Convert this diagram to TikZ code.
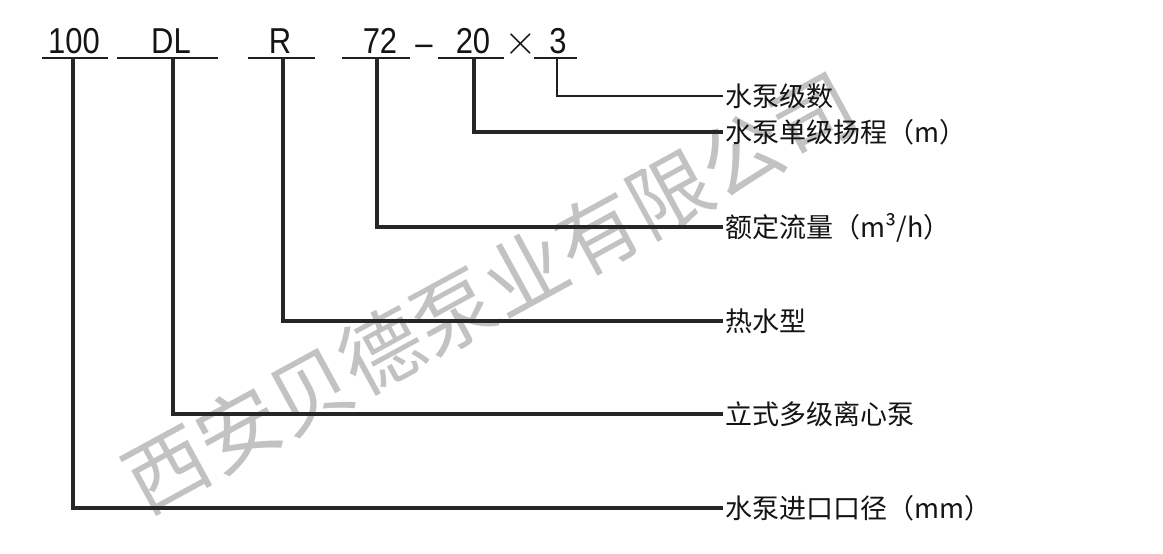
\RequirePackage{fix-cm}
\documentclass[tikz,border=0pt]{standalone}
\usepackage{fontspec}
\setmainfont{Liberation Sans}
\newfontfamily\narrowfont[FakeStretch=0.86]{Liberation Sans}
\newfontfamily\cjk{Noto Sans CJK SC}
\begin{document}
\begin{tikzpicture}[x=1pt,y=-1pt,line join=miter,
  lbl/.style={anchor=west, inner xsep=2.5pt, inner ysep=0pt,
    font=\cjk\fontsize{27}{27}\selectfont, text height=23.76pt, text depth=3.24pt, text=black!92},
  codetxt/.style={anchor=base, inner sep=0pt, font=\narrowfont\fontsize{36}{36}\selectfont, text=black!92},
  uline/.style={line width=2pt, draw=black!88},
  lead/.style={line width=3.2pt, draw=black!85},
  thinlead/.style={line width=2.2pt, draw=black!88},
  wmark/.style={inner sep=0pt, text=black!24, font=\cjk\fontsize{82}{82}\selectfont}]
\useasboundingbox (0,0) rectangle (1163,554);
\fill[white] (0,0) rectangle (1163,554);

% watermark
\node[wmark, rotate=28.6] (wm) at (490,292) {西安贝德泵业有限公司};

% code parts
\node[codetxt] (t100) at (74,53) {100};
\node[codetxt] (tDL) at (171,53) {DL};
\node[codetxt] (tR) at (280,53) {R};
\node[codetxt] (t72) at (380,53) {72};
\node[codetxt] (tdash) at (424,55) {–};
\node[codetxt] (t20) at (473,53) {20};
\node[codetxt, font=\fontsize{42}{42}\selectfont] (ttimes) at (521,54) {$\times$};
\node[codetxt] (t3) at (558,53) {3};

% underlines
\coordinate (a100) at (42,58);  \coordinate (b100) at (108,58);
\coordinate (aDL) at (117,58);  \coordinate (bDL) at (218,58);
\coordinate (aR) at (248,58);   \coordinate (bR) at (315,58);
\coordinate (a72) at (342,58);  \coordinate (b72) at (410,58);
\coordinate (a20) at (438,58);  \coordinate (b20) at (504,58);
\coordinate (a3) at (534,58);   \coordinate (b3) at (577,58);
\foreach \k in {100,DL,R,72,20,3} \draw[uline] (a\k) -- (b\k);

% leader start points
\coordinate (c100) at (73,58);
\coordinate (cDL) at (173,58);
\coordinate (cR) at (283,58);
\coordinate (c72) at (377,58);
\coordinate (c20) at (474,58);
\coordinate (c3) at (557,58);

% labels
\node[lbl] (l3) at (723,96) {水泵级数};
\node[lbl] (l20) at (723,132) {水泵单级扬程（m）};
\node[lbl] (l72) at (723,227) {额定流量（m³/h）};
\node[lbl] (lR) at (723,321) {热水型};
\node[lbl] (lDL) at (723,414) {立式多级离心泵};
\node[lbl] (l100) at (723,508) {水泵进口口径（mm）};

% leaders
\draw[thinlead] (c3) |- (l3.west);
\draw[lead] (c20) |- (l20.west);
\draw[lead] (c72) |- (l72.west);
\draw[lead] (cR) |- (lR.west);
\draw[lead] (cDL) |- (lDL.west);
\draw[lead] (c100) |- (l100.west);
\end{tikzpicture}
\end{document}
